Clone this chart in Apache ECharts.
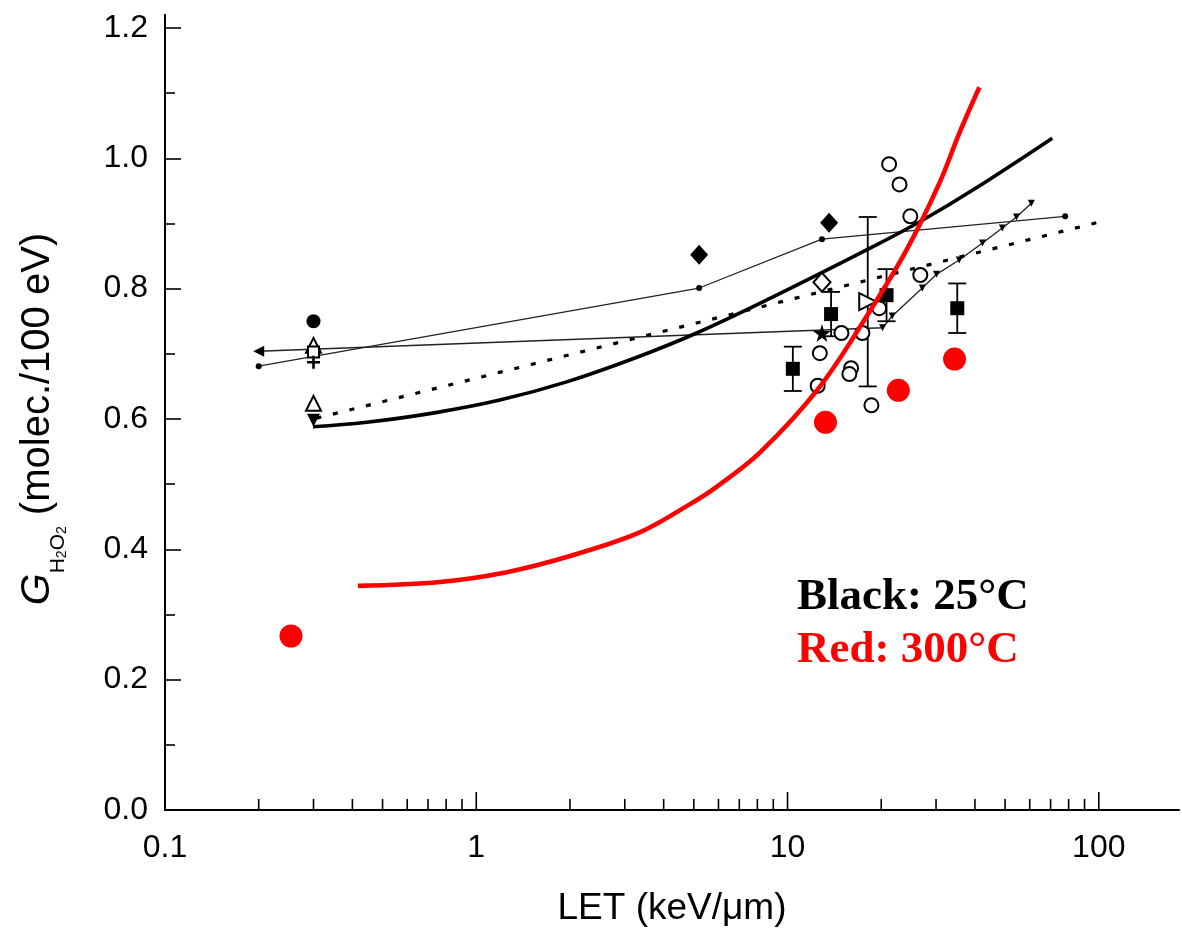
<!DOCTYPE html>
<html><head><meta charset="utf-8">
<script src="https://cdn.jsdelivr.net/npm/echarts@6/dist/echarts.min.js"></script>
<style>html,body{margin:0;padding:0;background:#fff}#c{width:1182px;height:940px}</style>
</head><body><div id="c"></div>
<script>
// ---- tick labels ----
const xTickLabels = ['0.1', '1', '10', '100'];
const xMajorTicks = [1, 10, 100];
const xMinorTicks = [0.2,0.3,0.4,0.5,0.6,0.7,0.8,0.9, 2,3,4,5,6,7,8,9, 20,30,40,50,60,70,80,90];
const yTickLabels = ['0.0','0.2','0.4','0.6','0.8','1.0','1.2'];

// ---- red (300 C) ----
const redCurveX = [0.4165,0.7635,1.253,2.040,3.349,4.847,5.918,8.131,12.67,18.75,24.10,30.76,35.67,41.34];
const redCurveY = [0.344,0.350,0.365,0.391,0.426,0.469,0.496,0.548,0.649,0.772,0.859,0.962,1.039,1.109];
const redPtsX = [0.254, 13.24, 22.7, 34.4];
const redPtsY = [0.267, 0.595, 0.644, 0.692];

// ---- black (25 C) curves ----
const blackCurveX = [0.2987,0.4451,0.7252,1.190,1.952,3.251,5.105,8.950,18.75,27.13,39.26,70.9];
const blackCurveY = [0.588,0.595,0.609,0.629,0.657,0.694,0.732,0.787,0.864,0.905,0.951,1.031];
const dottedX = [0.3, 100];
const dottedY = [0.600, 0.902];
const dotLineX = [0.2, 5.2, 12.9, 78];
const dotLineY = [0.681, 0.801, 0.876, 0.911];
const triLineX = [0.2, 20.2, 21.7, 27.1, 30.1, 35.6, 42.3, 49.0, 54.4, 60.7];
const triLineY = [0.704, 0.740, 0.758, 0.801, 0.822, 0.844, 0.870, 0.893, 0.910, 0.931];

// ---- black (25 C) data points ----
const openCircX = [21.2, 22.9, 24.8, 26.7, 17.4, 18.6, 14.9, 12.7, 12.5, 16.0, 15.8, 19.7];
const openCircY = [0.991, 0.960, 0.911, 0.821, 0.732, 0.621, 0.732, 0.701, 0.651, 0.678, 0.669, 0.770];
const sqX = [10.4, 13.8, 20.8, 35.1];
const sqY = [0.677, 0.761, 0.790, 0.770];
const sqErr = [0.034, 0.034, 0.040, 0.038];
const triRX = [18.1];
const triRY = [0.780];
const triRErr = [0.130];
const fDiamX = [5.2, 13.6];
const fDiamY = [0.852, 0.901];
const oDiamX = [12.9];
const oDiamY = [0.810];
const starX = [12.9];
const starY = [0.732];
const fCircX = [0.3];  const fCircY = [0.750];
const oTriX = [0.3, 0.3]; const oTriY = [0.713, 0.624];
const oSqX = [0.3];   const oSqY = [0.703];
const plusX = [0.3];  const plusY = [0.687];
const fTriDX = [0.3]; const fTriDY = [0.598];

const pairs = (xs, ys) => xs.map((x, i) => [x, ys[i]]);
const FONT = 'Liberation Sans, Arial, sans-serif';
const chart = echarts.init(document.getElementById('c'), null, {renderer: 'canvas'});

const tickSeries = (vals, len) => ({
  type: 'custom', z: 20, silent: true,
  data: vals.map(v => [v, 0]),
  encode: {x: 0, y: 1},
  renderItem: (params, api) => {
    const p = api.coord([api.value(0), 0]);
    return {type: 'line', shape: {x1: p[0], y1: p[1], x2: p[0], y2: p[1] - len},
      style: {stroke: '#000', lineWidth: 1.6}};
  }
});
const errSeries = (xs, ys, es) => ({
  type: 'custom', z: 6, silent: true,
  data: xs.map((x, i) => [x, ys[i] - es[i], ys[i] + es[i]]),
  encode: {x: 0, y: [1, 2]},
  renderItem: (params, api) => {
    const a = api.coord([api.value(0), api.value(1)]);
    const b = api.coord([api.value(0), api.value(2)]);
    const w = 9, st = {stroke: '#000', lineWidth: 1.8};
    return {type: 'group', children: [
      {type: 'line', shape: {x1: a[0], y1: a[1], x2: b[0], y2: b[1]}, style: st},
      {type: 'line', shape: {x1: a[0] - w, y1: a[1], x2: a[0] + w, y2: a[1]}, style: st},
      {type: 'line', shape: {x1: b[0] - w, y1: b[1], x2: b[0] + w, y2: b[1]}, style: st}
    ]};
  }
});
const open = {color: '#fff', borderColor: '#000', borderWidth: 2, opacity: 1};
const filled = {color: '#000', opacity: 1};
const sc = (xs, ys, symbol, size, style, extra) => Object.assign({
  type: 'scatter', z: 8, symbol: symbol, symbolSize: size, data: pairs(xs, ys), itemStyle: style
}, extra || {});

const triData = pairs(triLineX, triLineY).map((p, i) => i === 0
  ? {value: p, symbol: 'triangle', symbolRotate: 90, symbolSize: 11}
  : {value: p, symbol: 'triangle', symbolRotate: 180, symbolSize: 7});

const option = {
  animation: false,
  backgroundColor: '#fff',
  grid: {left: 165, right: 2, top: 28, bottom: 130},
  xAxis: {
    type: 'log', logBase: 10, min: 0.1, max: 181,
    name: 'LET (keV/\u03bcm)', nameLocation: 'middle', nameGap: 80,
    nameTextStyle: {fontFamily: FONT, fontSize: 37, color: '#000'},
    axisLine: {lineStyle: {color: '#000', width: 2}},
    axisTick: {show: false},
    splitLine: {show: false},
    axisLabel: {
      fontFamily: FONT, fontSize: 32, color: '#000', margin: 22,
      formatter: v => {
        const l = Math.log10(v), r = Math.round(l);
        if (Math.abs(l - r) > 1e-6) return '';
        const idx = r + 1;
        return xTickLabels[idx] !== undefined ? xTickLabels[idx] : '';
      }
    }
  },
  yAxis: {
    type: 'value', min: 0, max: 1.2, interval: 0.2,
    name: '{g|G}{s|H}{ss|2}{s|O}{ss|2}{t| (molec./100 eV)}',
    nameLocation: 'middle', nameGap: 96, nameRotate: 90,
    nameTextStyle: {
      fontFamily: FONT, color: '#000', fontSize: 40,
      rich: {
        g: {fontFamily: FONT, fontStyle: 'italic', fontSize: 41, lineHeight: 62, verticalAlign: 'middle'},
        s: {fontFamily: FONT, fontSize: 21, verticalAlign: 'bottom', lineHeight: 22},
        ss: {fontFamily: FONT, fontSize: 14, verticalAlign: 'bottom', lineHeight: 16},
        t: {fontFamily: FONT, fontSize: 40, lineHeight: 62, verticalAlign: 'middle'}
      }
    },
    axisLine: {lineStyle: {color: '#000', width: 2}},
    axisTick: {inside: true, length: 16, lineStyle: {color: '#000', width: 1.6}},
    minorTick: {show: true, splitNumber: 2, length: 10, lineStyle: {color: '#000', width: 1.6}},
    splitLine: {show: false},
    axisLabel: {
      fontFamily: FONT, fontSize: 32, color: '#000', margin: 17,
      formatter: v => yTickLabels[Math.round(v / 0.2)]
    }
  },
  series: [
    tickSeries(xMajorTicks, 18),
    tickSeries(xMinorTicks, 11),
    {type: 'line', z: 3, data: pairs(dottedX, dottedY), showSymbol: false,
      lineStyle: {color: '#000', width: 3.2, type: [5, 12], dashOffset: -20}},
    {type: 'line', z: 3, data: pairs(dotLineX, dotLineY), symbol: 'circle', symbolSize: 6,
      itemStyle: {color: '#000'}, lineStyle: {color: '#222', width: 1.3}},
    {type: 'line', z: 3, data: triData, itemStyle: {color: '#000'},
      lineStyle: {color: '#222', width: 1.3}},
    {type: 'line', z: 4, data: pairs(blackCurveX, blackCurveY), showSymbol: false, smooth: 0.4,
      lineStyle: {color: '#000', width: 3.6}},
    errSeries(sqX, sqY, sqErr),
    errSeries(triRX, triRY, triRErr),
    sc(openCircX, openCircY, 'circle', 14, open),
    sc(sqX, sqY, 'rect', 14, filled),
    sc(triRX, triRY, 'triangle', 17, open, {symbolRotate: -90}),
    sc(fDiamX, fDiamY, 'diamond', [18, 20], filled),
    sc(oDiamX, oDiamY, 'diamond', [17, 19], open),
    sc(starX, starY, 'path://M50,0 L61,35 L98,35 L68,57 L79,91 L50,70 L21,91 L32,57 L2,35 L39,35 Z', 18, filled),
    sc(fCircX, fCircY, 'circle', 14, filled),
    sc(oTriX, oTriY, 'triangle', 15, open),
    sc(oSqX, oSqY, 'rect', 11, open),
    sc(plusX, plusY, 'path://M4,0h2v4h4v2h-4v4h-2v-4h-4v-2h4z', 13, filled),
    sc(fTriDX, fTriDY, 'triangle', 13, filled, {symbolRotate: 180}),
    {type: 'line', z: 9, data: pairs(redCurveX, redCurveY), showSymbol: false, smooth: 0.35,
      lineStyle: {color: '#ff0000', width: 4.6}},
    sc(redPtsX, redPtsY, 'circle', 23, {color: '#ff0000', opacity: 1}, {z: 10})
  ],
  graphic: [
    {type: 'line', shape: {x1: 165, y1: 14, x2: 165, y2: 30}, style: {stroke: '#000', lineWidth: 2}},
    {type: 'text', x: 797, y: 597, style: {text: 'Black: 25\u00b0C', fill: '#000',
      font: 'bold 45px "Liberation Serif", "Times New Roman", serif', verticalAlign: 'middle'}},
    {type: 'text', x: 797, y: 650, style: {text: 'Red: 300\u00b0C', fill: '#ff0000',
      font: 'bold 45px "Liberation Serif", "Times New Roman", serif', verticalAlign: 'middle'}}
  ]
};
chart.setOption(option);
</script>
</body></html>
